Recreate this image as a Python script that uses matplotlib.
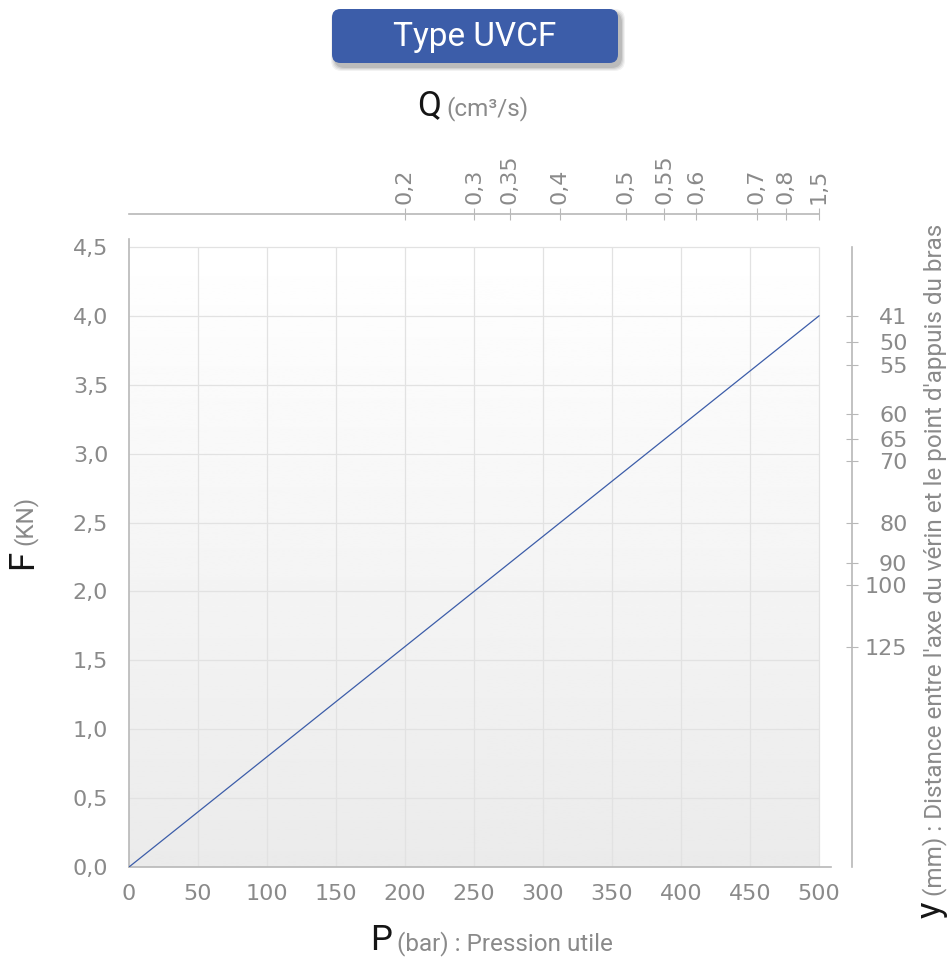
import matplotlib
matplotlib.use("Agg")
import numpy as np
import matplotlib.pyplot as plt
from matplotlib.patches import FancyBboxPatch

W, H = 950, 957

# --- data ---
pression = [0, 500]                 # P (bar)
force = [0.0, 4.0]                  # F (kN)
x_ticks = [0, 50, 100, 150, 200, 250, 300, 350, 400, 450, 500]
y_ticks = [0.0, 0.5, 1.0, 1.5, 2.0, 2.5, 3.0, 3.5, 4.0, 4.5]
q_labels = ["0,2", "0,3", "0,35", "0,4", "0,5", "0,55", "0,6", "0,7", "0,8", "1,5"]
q_at_p = [200, 250, 276, 312, 360, 388, 411, 455, 476, 500]
ymm_labels = ["41", "50", "55", "60", "65", "70", "80", "90", "100", "125"]
ymm_at_f = [4.00, 3.81, 3.64, 3.29, 3.11, 2.95, 2.50, 2.21, 2.05, 1.60]

LABEL_FONT = ["Roboto", "DejaVu Sans"]
TICK_FONT = ["DejaVu Sans"]
TICK_COL = "#8a8a8a"
GRID_COL = "#e2e2e2"
SPINE_COL = "#b8b8b8"
BLUE = "#3c5da9"


def fx(px):
    return px / W


def fy(py):
    return 1 - py / H


fig = plt.figure(figsize=(W / 100, H / 100), dpi=100)
fig.patch.set_facecolor("white")

# main axes (spines run a little past the data area, as in the original)
ax = fig.add_axes([fx(129), fy(867), (831 - 129) / W, (867 - 239) / H])
ax.set_xlim(0, 500 * 702 / 690)
ax.set_ylim(0, 4.5 * 628 / 620)
ax.set_facecolor("white")

grad = np.linspace(1.0, 0.92, 256).reshape(-1, 1)
ax.imshow(grad, cmap="gray", vmin=0, vmax=1, extent=[0, 500, 0, 4.5],
          aspect="auto", origin="upper", zorder=0)
ax.vlines(x_ticks[1:], 0, 4.5, color=GRID_COL, lw=0.9, zorder=1)
ax.hlines(y_ticks[1:], 0, 500, color=GRID_COL, lw=0.9, zorder=1)

ax.plot(pression, force, color=BLUE, lw=0.9, zorder=3)

for s in ["top", "right"]:
    ax.spines[s].set_visible(False)
for s in ["left", "bottom"]:
    ax.spines[s].set_color(SPINE_COL)
    ax.spines[s].set_linewidth(1.2)

ax.set_xticks(x_ticks)
ax.set_xticklabels([str(v) for v in x_ticks])
ax.set_yticks(y_ticks)
ax.set_yticklabels([f"{v:.1f}".replace(".", ",") for v in y_ticks])
ax.tick_params(axis="x", length=0, pad=12, labelsize=16, labelcolor=TICK_COL)
ax.tick_params(axis="y", length=0, pad=15, labelsize=16, labelcolor=TICK_COL)
for lab in ax.get_xticklabels() + ax.get_yticklabels():
    lab.set_family(TICK_FONT)

# right axis: y (mm)
axr = ax.twinx()
axr.set_ylim(ax.get_ylim())
for s in ["top", "left", "bottom"]:
    axr.spines[s].set_visible(False)
axr.spines["right"].set_position(("outward", 15))
axr.spines["right"].set_bounds(0, 4.5)
axr.spines["right"].set_color(SPINE_COL)
axr.spines["right"].set_linewidth(1.2)
axr.set_yticks(ymm_at_f)
axr.set_yticklabels(ymm_labels)
axr.tick_params(axis="y", direction="inout", length=8, width=0.8, color=SPINE_COL,
                pad=36, labelsize=16, labelcolor=TICK_COL)
for lab in axr.get_yticklabels():
    lab.set_family(TICK_FONT)
    lab.set_horizontalalignment("right")

# top axis: Q (cm3/s)
axt = ax.twiny()
axt.set_xlim(ax.get_xlim())
for s in ["right", "left", "bottom"]:
    axt.spines[s].set_visible(False)
axt.spines["top"].set_position(("outward", 18))
axt.spines["top"].set_bounds(0, 500)
axt.spines["top"].set_color(SPINE_COL)
axt.spines["top"].set_linewidth(1.2)
axt.set_xticks(q_at_p)
axt.set_xticklabels(q_labels, rotation=90)
axt.tick_params(axis="x", direction="inout", length=8, width=0.8, color=SPINE_COL,
                pad=3, labelsize=16, labelcolor=TICK_COL)
for lab in axt.get_xticklabels():
    lab.set_family(TICK_FONT)

renderer = fig.canvas.get_renderer()


def two_part(x, y, big, small, rotation=0, gap=5, size=17.5):
    # big black letter followed by the grey rest of the label
    kw = dict(family=LABEL_FONT, ha="left", va="baseline",
              rotation=rotation, rotation_mode="anchor")
    t = fig.text(fx(x), fy(y), big, fontsize=25, color="#151515", **kw)
    bb = t.get_window_extent(renderer)
    if rotation == 0:
        x2, y2 = x + bb.width + gap, y
    else:
        x2, y2 = x, y - bb.height - gap
    fig.text(fx(x2), fy(y2), small, fontsize=size, color="#8a8a8a", **kw)


two_part(370, 950, "P", "(bar) : Pression utile")
two_part(417, 115, "Q", "(cm³/s)")
two_part(32, 569, "F", "(KN)", rotation=90)
two_part(941, 918, "y",
         "(mm) : Distance entre l'axe du vérin et le point d'appuis du bras",
         rotation=90)

# title badge with soft shadow
bx, by, bw, bh = 332, 9, 286, 54
for i, a in enumerate([0.05, 0.06, 0.08, 0.10]):
    grow = 4 - i
    sh = FancyBboxPatch((fx(bx + 3 - grow), fy(by + bh + 4 + grow)),
                        (bw + 2 * grow) / W, (bh + 2 * grow) / H,
                        boxstyle="round,pad=0,rounding_size=0.011",
                        transform=fig.transFigure, facecolor="black",
                        edgecolor="none", alpha=a, zorder=5)
    fig.patches.append(sh)
badge = FancyBboxPatch((fx(bx), fy(by + bh)), bw / W, bh / H,
                       boxstyle="round,pad=0,rounding_size=0.009",
                       transform=fig.transFigure, facecolor=BLUE,
                       edgecolor="none", zorder=6)
fig.patches.append(badge)
fig.text(fx(bx + bw / 2), fy(by + bh / 2 + 1), "Type UVCF", family=LABEL_FONT,
         fontsize=24, color="white", ha="center", va="center", zorder=7)

fig.savefig("out.png", dpi=100)
